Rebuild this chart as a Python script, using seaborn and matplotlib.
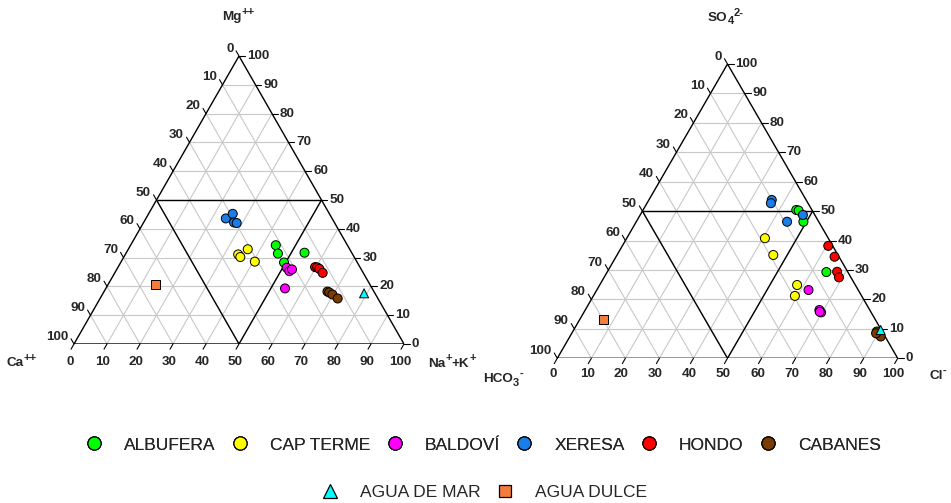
import numpy as np
import pandas as pd
import matplotlib
matplotlib.use("Agg")
import matplotlib.pyplot as plt
from matplotlib.lines import Line2D
import seaborn as sns

# ---------------------------------------------------------------- data
SITES = ["ALBUFERA", "CAP TERME", "BALDOVÍ", "XERESA", "HONDO", "CABANES",
         "AGUA DE MAR", "AGUA DULCE"]

sample_site = (["ALBUFERA"] * 4 + ["CAP TERME"] * 4 + ["BALDOVÍ"] * 4 +
               ["XERESA"] * 4 + ["HONDO"] * 4 + ["CABANES"] * 4 +
               ["AGUA DE MAR", "AGUA DULCE"])

# cations (% meq/l)
ca = [21.7, 22.5, 22.2, 14.3,
      30.9, 34.7, 34.5, 30.9,
      22.3, 22.1, 21.0, 26.4,
      32.2, 29.3, 30.4, 29.7,
      13.6, 13.0, 12.6, 12.3,
      14.1, 13.7, 13.1, 12.2,
      3.3, 65.1]
mg = [34.3, 31.4, 28.3, 31.7,
      32.9, 31.1, 30.2, 28.6,
      26.5, 25.3, 25.9, 19.3,
      43.6, 45.2, 42.2, 42.0,
      26.7, 26.6, 26.1, 24.7,
      18.2, 17.9, 17.2, 15.8,
      17.6, 20.7]
na_k = [44.0, 46.1, 49.5, 54.0,
        36.2, 34.2, 35.3, 40.5,
        51.2, 52.6, 53.1, 54.3,
        24.2, 25.5, 27.4, 28.3,
        59.7, 60.4, 61.3, 63.0,
        67.7, 68.4, 69.7, 72.0,
        79.1, 14.2]

# anions (% meq/l)
hco3 = [4.6, 4.0, 4.5, 6.3,
        18.6, 19.0, 17.1, 19.6,
        14.6, 14.8, 14.7, 15.0,
        10.1, 10.9, 9.3, 3.5,
        1.3, 1.3, 3.1, 3.5,
        1.6, 1.4, 1.3, 2.1,
        0.2, 79.8]
so4 = [50.4, 50.2, 46.4, 29.3,
       40.8, 35.1, 24.9, 21.2,
       23.2, 16.4, 15.6, 15.8,
       53.8, 52.7, 46.4, 48.7,
       38.2, 34.5, 29.4, 27.5,
       9.1, 8.2, 7.4, 8.5,
       9.6, 13.3]
cl = [45.0, 45.8, 49.1, 64.4,
      40.6, 45.9, 58.0, 59.2,
      62.2, 68.8, 69.7, 69.2,
      36.1, 36.4, 44.3, 47.8,
      60.5, 64.2, 67.5, 69.0,
      89.3, 90.4, 91.3, 89.4,
      90.2, 6.9]

TICKS = list(range(0, 101, 10))

PALETTE = {"ALBUFERA": "#00ff00", "CAP TERME": "#ffff00", "BALDOVÍ": "#ff00ff",
           "XERESA": "#1a7ee8", "HONDO": "#ff0000", "CABANES": "#7a3c00",
           "AGUA DE MAR": "#00ffff", "AGUA DULCE": "#f47c3c"}
MARKERS = {s: "o" for s in SITES}
MARKERS["AGUA DE MAR"] = "^"
MARKERS["AGUA DULCE"] = "s"

H = np.sqrt(3) / 2

# ---------------------------------------------------------------- style
sns.set_style("white")
plt.rcParams["font.family"] = ["Liberation Sans", "DejaVu Sans"]

fig = plt.figure(figsize=(9.51, 5.03), dpi=100)
W, HP = 951.0, 503.0


def px_axes(x0, x1, ytop, ybot):
    return fig.add_axes([x0 / W, (HP - ybot) / HP, (x1 - x0) / W, (ybot - ytop) / HP])


def ternary_xy(bottom, top):
    """bottom-right component -> x, top component -> height."""
    b = np.asarray(bottom, float)
    t = np.asarray(top, float)
    return b + t / 2, t * H


def draw_frame(ax, bot_dy):
    ax.set_xlim(0, 100)
    ax.set_ylim(0, 100 * H)
    ax.axis("off")
    grid = dict(color="#c8c8c8", lw=0.8, zorder=1)
    for v in range(10, 100, 10):
        # constant top component (horizontal)
        ax.plot([v / 2, 100 - v / 2], [v * H, v * H], **grid)
        # constant bottom-right component
        ax.plot([v, v / 2 + 50], [0, (100 - v) * H], **grid)
        # constant left component
        ax.plot([100 - v, (100 - v) / 2], [0, (100 - v) * H], **grid)
    edge = dict(color="black", lw=1.0, zorder=2, solid_capstyle="butt")
    ax.plot([0, 100, 50, 0], [0, 0, 100 * H, 0], **edge)
    # central diamond subdivisions
    ax.plot([25, 75], [50 * H, 50 * H], **edge)
    ax.plot([25, 50, 75], [50 * H, 0, 50 * H], **edge)

    L = 1.8
    fs = dict(fontsize=9.7, fontweight="bold", annotation_clip=False)
    tick = dict(color="black", lw=0.8, clip_on=False, zorder=2)
    for v in TICKS:
        # left edge (left component = v)
        x, y = (100 - v) / 2, (100 - v) * H
        ax.plot([x, x - 0.5 * L], [y, y + H * L], **tick)
        ax.annotate(str(v), (x, y), xytext=(-5.5, 7.5), textcoords="offset pixels",
                    ha="right", va="center", **fs)
        # right edge (top component = v)
        x, y = 100 - v / 2, v * H
        ax.plot([x, x + L], [y, y], **tick)
        ax.annotate(str(v), (x, y), xytext=(8, 0), textcoords="offset pixels",
                    ha="left", va="center", **fs)
        # bottom edge (bottom-right component = v)
        ax.plot([v, v - 0.5 * L], [0, -H * L], **tick)
        ax.annotate(str(v), (v, 0), xytext=(-4, bot_dy), textcoords="offset pixels",
                    ha="center", va="center", **fs)


def draw_points(ax, bottom, top):
    x, y = ternary_xy(bottom, top)
    df = pd.DataFrame({"x": x, "y": y, "site": sample_site})
    sns.scatterplot(data=df, x="x", y="y", hue="site", style="site",
                    hue_order=SITES, style_order=SITES,
                    palette=PALETTE, markers=MARKERS, s=42,
                    edgecolor="black", linewidth=0.7, legend=False,
                    ax=ax, zorder=3, clip_on=False)
    ax.set_xlabel("")
    ax.set_ylabel("")
    ax.set_xlim(0, 100)
    ax.set_ylim(0, 100 * H)


# cations
ax1 = px_axes(74, 404, 56, 344)
draw_frame(ax1, -18)
draw_points(ax1, na_k, mg)

# anions
ax2 = px_axes(557.3, 897.7, 64, 358.3)
draw_frame(ax2, -15.5)
draw_points(ax2, cl, so4)

# component names, built from pieces: (text, shift): 0 normal, +1 superscript, -1 subscript
renderer = fig.canvas.get_renderer()


def ion_label(cx, baseline, pieces):
    arts = []
    for txt, shift in pieces:
        size = 9.7 if shift == 0 else 8.0
        t = fig.text(0, 0, txt, fontsize=size, fontweight="bold",
                     ha="left", va="baseline", transform=None)
        arts.append((t, shift))
    widths = [t.get_window_extent(renderer).width for t, _ in arts]
    x = cx - sum(widths) / 2
    for (t, shift), w in zip(arts, widths):
        dy = {0: 0, 1: 5.5, -1: -3.5}[shift]
        t.set_position((x, HP - baseline + dy))
        x += w


ion_label(238, 20, [("Mg", 0), ("++", 1)])
ion_label(22, 366, [("Ca", 0), ("++", 1)])
ion_label(452, 367, [("Na", 0), ("+", 1), ("+K", 0), ("+", 1)])
ion_label(726, 21, [("SO", 0), ("4", -1), ("2-", 1)])
ion_label(503, 382, [("HCO", 0), ("3", -1), ("-", 1)])
ion_label(938, 379, [("Cl", 0), ("-", 1)])


# legend
def handle(site, size):
    return Line2D([], [], ls="", marker=MARKERS[site], markersize=size,
                  markerfacecolor=PALETTE[site], markeredgecolor="black",
                  markeredgewidth=0.9, label=site)


leg_kw = dict(frameon=False, fontsize=12.5, handlelength=1.0, handletextpad=1.22,
              columnspacing=0.92, borderpad=0, borderaxespad=0, loc="center")
row1 = [handle(s, 9.5) for s in SITES[:6]]
row2 = [handle("AGUA DE MAR", 9.5), handle("AGUA DULCE", 8.5)]
leg1 = fig.legend(handles=row1, ncol=6, bbox_to_anchor=(483 / W, 1 - 445 / HP), **leg_kw)
fig.add_artist(leg1)
fig.legend(handles=row2, ncol=2, bbox_to_anchor=(484 / W, 1 - 492 / HP), **leg_kw)

fig.savefig("out.png", dpi=100)
